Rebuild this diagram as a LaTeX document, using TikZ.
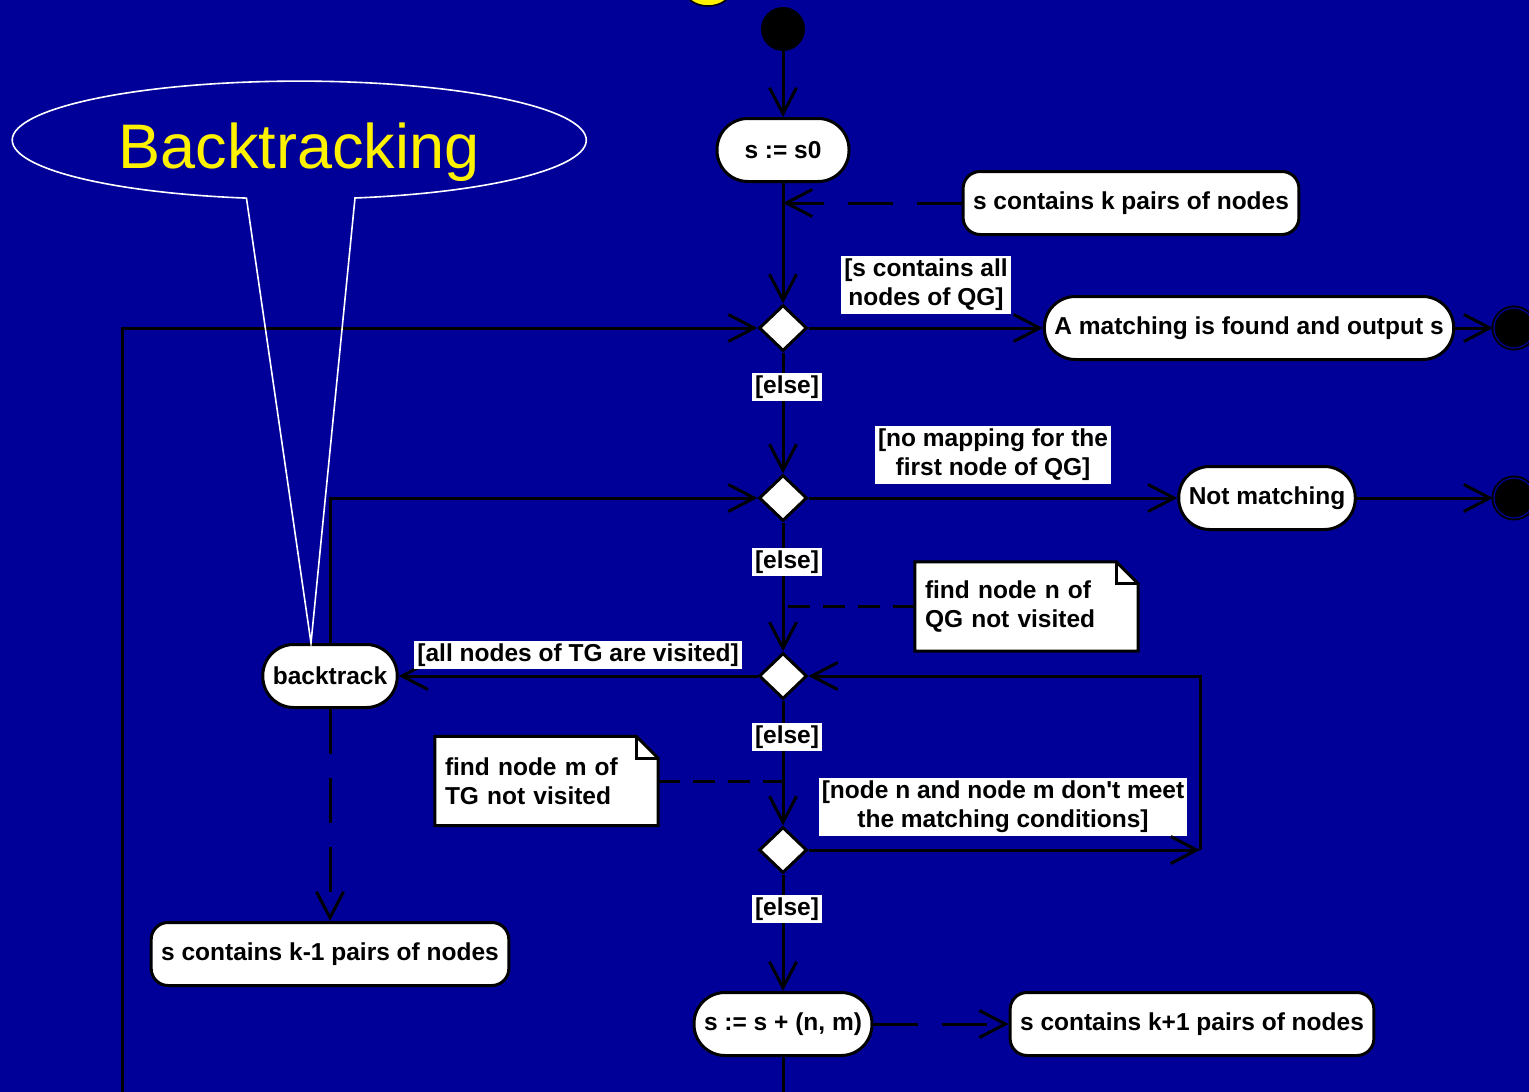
\documentclass[tikz,border=0pt]{standalone}
\usepackage{fontspec}
\setmainfont{Liberation Sans}
\usetikzlibrary{arrows.meta,shapes.geometric}
\definecolor{bgblue}{RGB}{0,0,153}
\newcommand{\dogear}[1]{%
  \fill[bgblue] ([xshift=-22pt]#1.north east) -- (#1.north east) -- ([yshift=-22pt]#1.north east) -- cycle;
  \draw[line width=3pt] (#1.south west) -- (#1.north west) -- ([xshift=-22pt]#1.north east) -- ([yshift=-22pt]#1.north east) -- (#1.south east) -- cycle;
  \draw[line width=3pt] ([xshift=-22pt]#1.north east) |- ([yshift=-22pt]#1.north east);
}

\begin{document}
\begin{tikzpicture}[x=1pt,y=-1pt,
  font=\fontsize{24.5}{29}\selectfont\bfseries,
  act/.style={draw,fill=white,line width=3pt,rounded corners=31pt,minimum height=63pt,minimum width=132pt,inner xsep=10pt},
  obj/.style={draw,fill=white,line width=3pt,rounded corners=17pt,minimum height=63pt,inner xsep=10pt},
  dec/.style={diamond,draw,fill=white,line width=3pt,minimum width=48pt,minimum height=46pt,inner sep=0pt},
  guard/.style={fill=white,inner xsep=3pt,inner ysep=3pt,align=center},
  note/.style={fill=white,text width=203pt,minimum height=89pt,inner xsep=10pt,align=left},
  startnode/.style={circle,fill=black,minimum size=44pt,inner sep=0pt},
  endnode/.style={circle,draw,fill=black,line width=1.9pt,double=bgblue,double distance=1.2pt,minimum size=40pt,inner sep=0pt},
  arr/.style={line width=3pt,-{Straight Barb[length=26pt,width=27pt]}},
  dasharr/.style={arr,dash pattern=on 45pt off 24pt},
  link/.style={line width=3pt,dash pattern=on 22pt off 13pt}]
\useasboundingbox (0,0) rectangle (1529,1092);
\clip (0,0) rectangle (1529,1092);
\fill[bgblue] (0,0) rectangle (1529,1092);
\draw[fill=yellow,line width=1.5pt] (708,-12) ellipse[x radius=24pt,y radius=18pt];

\node[startnode] (start) at (783,29) {};
\node[act] (s0) at (783,150) {s := s0};
\node[obj] (kp) at (1131,203) {s contains k pairs of nodes};
\node[dec] (d1) at (783,328) {};
\node[guard] (g1) at (926,285) {[s contains all\\nodes of QG]};
\node[act] (found) at (1249,328) {A matching is found and output s};
\node[endnode] (end1) at (1514,328) {};
\node[dec] (d2) at (783,498) {};
\node[guard] (g2) at (993,455) {[no mapping for the\\first node of QG]};
\node[act] (nm) at (1267,498) {Not matching};
\node[endnode] (end2) at (1514,498) {};
\node[note] (nn) at (1026.5,606.5) {find node n of\\QG not visited};
\dogear{nn}
\node[dec] (d3) at (783,676) {};
\node[act] (bt) at (330,676) {backtrack};
\node[note] (mm) at (546.5,781) {find node m of\\TG not visited};
\dogear{mm}
\node[guard] (g4) at (1003,807) {[node n and node m don\textquotesingle t meet\\the matching conditions]};
\node[dec] (d4) at (783,850) {};
\coordinate (loop) at (1200,850);
\node[obj] (km1) at (330,954) {s contains k-1 pairs of nodes};
\node[act] (sadd) at (783,1024) {s := s + (n, m)};
\node[obj] (kp1) at (1192,1024) {s contains k+1 pairs of nodes};
\coordinate (bot) at (122,1120);

\draw[arr] (start) -- (s0);
\draw[arr] (s0) -- (d1);
\draw[dasharr] (kp) -- (kp -| s0);
\draw[arr] (d1) -- (found);
\draw[arr] (found) -- (end1);
\draw[arr] (d1) -- node[guard,pos=0.285,xshift=4pt] (e1) {[else]} (d2);
\draw[arr] (d2) -- (nm);
\draw[arr] (nm) -- (end2);
\draw[arr] (d2) -- node[guard,pos=0.306,xshift=4pt] (e2) {[else]} (d3);
\draw[link] (nn) -- (nn -| d2);
\draw[arr] (d3) -- node[guard,pos=0.5,yshift=21pt] (g3) {[all nodes of TG are visited]} (bt);
\draw[arr] (bt) |- (d2);
\draw[dasharr] (bt) -- (km1);
\draw[arr] (d3) -- node[guard,pos=0.292,xshift=4pt] (e3) {[else]} (d4);
\draw[link] (mm) -- (mm -| d3);
\draw[arr] (d4) -- (loop);
\draw[arr] (loop) |- (d3);
\draw[arr] (d4) -- node[guard,pos=0.296,xshift=4pt] (e4) {[else]} (sadd);
\draw[dasharr] (sadd) -- (kp1);
\draw[arr] (sadd) |- (bot) |- (d1);

\draw[white,line width=1.6pt] (355,198) arc[start angle=281.2,end angle=619.4,x radius=287pt,y radius=59pt] -- ([xshift=-19pt]bt.north) -- cycle;
\node[text=yellow,font=\fontsize{63}{70}\selectfont,anchor=base] (title) at (299,168) {Backtracking};
\end{tikzpicture}
\end{document}
